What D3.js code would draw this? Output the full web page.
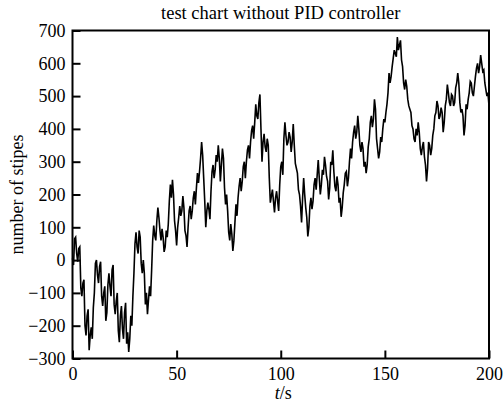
<!DOCTYPE html>
<meta charset="utf-8">
<script src="https://d3js.org/d3.v7.min.js"></script>
<style>
  body { margin: 0; background: #fff; }
  text { font-family: "Liberation Serif", "DejaVu Serif", serif; fill: #000; }
</style>
<div id="my_dataviz"></div>
<script>

// sampled trace, one value per second (t = 0 .. 200)
var stripes = [
  5, 65, 20, 35, -85, -70, -200, -170, -275, -205,
  -145, -10, -45, -20, -110, -100, -185, -75, -80, -30,
  -135, -125, -215, -170, -210, -160, -255, -280, -170, -110,
  50, 40, 90, -10, 0, -135, -165, -80, -30, 105,
  60, 160, 90, 95, 25, 90, 110, 230, 245, 120,
  45, 130, 135, 195, 90, 40, 150, 125, 190, 170,
  265, 270, 360, 250, 100, 175, 125, 270, 250, 320,
  350, 240, 340, 220, 200, 85, 110, 28, 115, 135,
  225, 210, 285, 250, 335, 310, 395, 370, 475, 430,
  505, 300, 385, 330, 350, 175, 215, 145, 210, 150,
  285, 260, 420, 350, 390, 330, 415, 295, 265, 200,
  115, 250, 160, 72, 165, 155, 230, 215, 305, 200,
  275, 315, 255, 185, 300, 335, 225, 255, 175, 132,
  205, 265, 225, 300, 310, 390, 370, 440, 350, 360,
  285, 265, 345, 420, 405, 490, 370, 310, 375, 400,
  420, 475, 570, 560, 615, 630, 680, 655, 610, 540,
  550, 490, 460, 410, 370, 400, 420, 340, 345, 315,
  240, 360, 320, 380, 440, 485, 430, 465, 390, 470,
  535, 480, 505, 470, 525, 570, 480, 460, 380, 475,
  490, 545, 510, 530, 585, 570, 625, 575, 540, 500,
  470
]
// values in between, at t = 0.5 .. 199.5
var halfStripes = [
  -15, 70, -5, 40, -110, -60, -230, -150, -230, -240,
  -100, 0, -70, -5, -140, -80, -160, -40, -110, -15,
  -165, -100, -250, -140, -240, -130, -220, -240, -200, -40,
  85, 20, 70, -40, -40, -100, -120, -110, 60, 75,
  120, 130, 60, 70, 40, 70, 180, 190, 200, 90,
  100, 165, 150, 160, 75, 100, 165, 150, 210, 220,
  235, 310, 320, 180, 150, 155, 210, 290, 275, 300,
  310, 290, 310, 170, 150, 60, 80, 60, 170, 190,
  250, 240, 300, 300, 350, 360, 410, 420, 440, 480,
  400, 360, 345, 370, 250, 195, 180, 190, 180, 230,
  300, 370, 380, 360, 375, 360, 350, 280, 215, 165,
  190, 200, 130, 100, 190, 180, 250, 260, 250, 230,
  260, 290, 240, 220, 290, 270, 210, 230, 190, 160,
  230, 270, 250, 340, 360, 410, 390, 400, 330, 340,
  300, 290, 370, 440, 430, 460, 340, 330, 360, 430,
  450, 510, 540, 590, 640, 620, 640, 670, 590, 520,
  530, 470, 450, 400, 360, 380, 390, 320, 360, 290,
  280, 350, 340, 400, 450, 470, 440, 450, 420, 490,
  510, 470, 500, 480, 540, 540, 450, 440, 410, 460,
  510, 540, 500, 560, 600, 590, 600, 580, 520, 510
]
var xTicks = [0, 50, 100, 150, 200]
var yTicks = [-300, -200, -100, 0, 100, 200, 300, 400, 500, 600, 700]

var margin = {top: 30.5, right: 15, bottom: 45.5, left: 72.5},
    width = 504 - margin.left - margin.right,
    height = 404 - margin.top - margin.bottom

var svg = d3.select("#my_dataviz")
  .append("svg")
    .attr("width", 504)
    .attr("height", 404)
  .append("g")
    .attr("transform", "translate(" + margin.left + "," + margin.top + ")")

var x = d3.scaleLinear().domain([0, 200]).range([0, width])
var y = d3.scaleLinear().domain([-300, 700]).range([height, 0])

var fmt = function(d){ return d < 0 ? "\u2212" + Math.abs(d) : d }

// merge whole and half second samples into one trace
var data = []
stripes.forEach(function(v, i){
  data.push([i, v])
  if (i < halfStripes.length) data.push([i + 0.5, halfStripes[i]])
})

svg.append("path")
  .datum(data)
  .attr("fill", "none")
  .attr("stroke", "#000")
  .attr("stroke-width", 1.6)
  .attr("d", d3.line().x(function(d){ return x(d[0]) }).y(function(d){ return y(d[1]) }))

// axes with inward ticks
svg.append("g")
  .attr("transform", "translate(0," + height + ")")
  .call(d3.axisBottom(x).tickValues(xTicks).tickSizeInner(-8).tickSizeOuter(0).tickPadding(9).tickFormat(fmt))
svg.append("g")
  .call(d3.axisLeft(y).tickValues(yTicks).tickSizeInner(-8).tickSizeOuter(0).tickPadding(7).tickFormat(fmt))

svg.selectAll(".domain").remove()
svg.selectAll(".tick line").attr("stroke", "#000").attr("stroke-width", 2)
svg.selectAll(".tick text").style("font-size", "18px").style("font-family", "Liberation Serif")

// frame
svg.append("rect")
  .attr("width", width)
  .attr("height", height)
  .attr("fill", "none")
  .attr("stroke", "#000")
  .attr("stroke-width", 2)

// title and labels
svg.append("text")
  .attr("x", width / 2)
  .attr("y", -11.5)
  .attr("text-anchor", "middle")
  .style("font-size", "18.5px")
  .text("test chart without PID controller")

svg.append("text")
  .attr("x", width / 2 - 1)
  .attr("y", height + 40)
  .attr("text-anchor", "end")
  .style("font-size", "18px")
  .style("font-style", "italic")
  .text("t")
svg.append("text")
  .attr("x", width / 2 - 1)
  .attr("y", height + 40)
  .attr("text-anchor", "start")
  .style("font-size", "18px")
  .text("/s")

svg.append("text")
  .attr("transform", "translate(" + (-50) + "," + (height / 2) + ")rotate(-90)")
  .attr("text-anchor", "middle")
  .style("font-size", "18px")
  .text("number of stipes")

</script>
